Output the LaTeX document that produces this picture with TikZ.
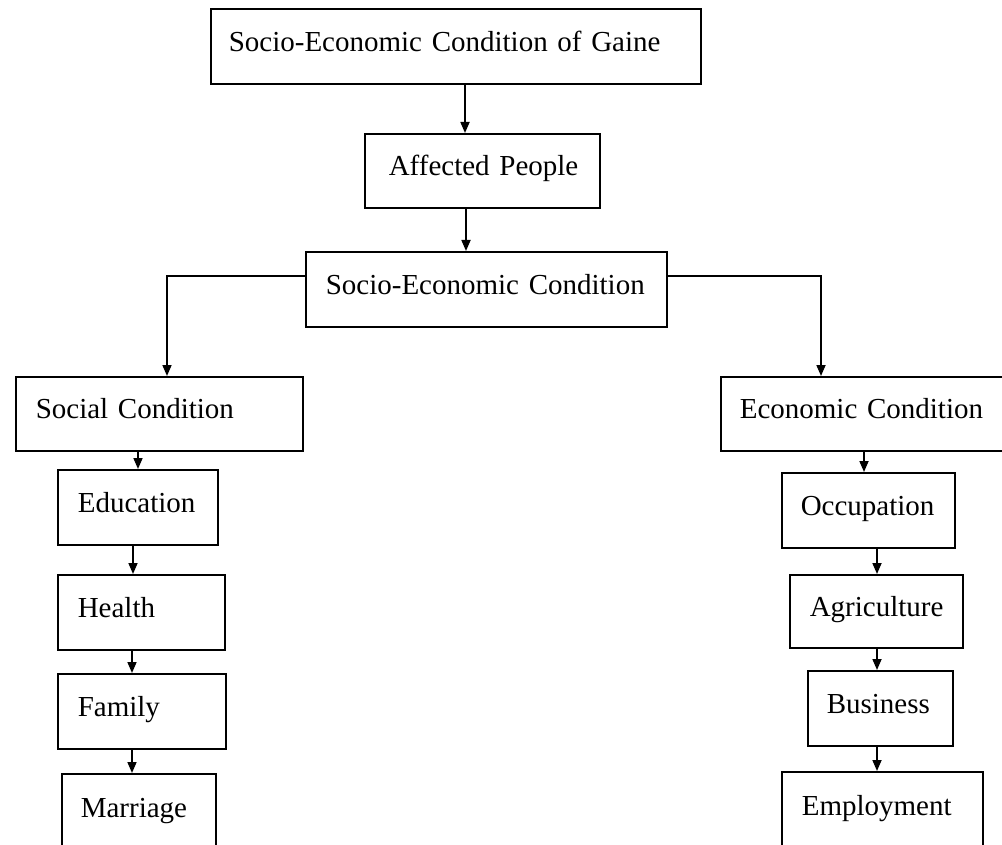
\documentclass[tikz,border=0pt]{standalone}
\usepackage{fontspec}
\setmainfont{Liberation Serif}
\usetikzlibrary{arrows.meta}
\tikzset{
  box/.style={draw=black, line width=1.6pt, rectangle, anchor=north west,
    align=left, text height=10pt, text depth=0pt, inner ysep=0pt,
    font=\fontsize{29}{34}\selectfont},
  arr/.style={draw=black, line width=1.7pt, -{Triangle[length=11pt,width=9pt]}},
}
\begin{document}
\begin{tikzpicture}[x=1pt,y=-1pt]
\useasboundingbox[fill=white] (0,0) rectangle (1002,845);
% boxes
\node[box, minimum width=490pt, minimum height=75pt, inner xsep=18pt, text width=454pt] (b1) at (210,8) {\mbox{Socio-Economic Condition of Gaine}};
\node[box, minimum width=235pt, minimum height=74pt, inner xsep=24pt, text width=187pt] (b2) at (364,133) {\mbox{Affected People}};
\node[box, minimum width=361pt, minimum height=75pt, inner xsep=20pt, text width=321pt] (b3) at (305,251) {\mbox{Socio-Economic Condition}};
\node[box, minimum width=287pt, minimum height=74pt, inner xsep=20pt, text width=247pt] (soc) at (15,376) {\mbox{Social Condition}};
\node[box, minimum width=284pt, minimum height=74pt, inner xsep=19pt, text width=246pt] (eco) at (720,376) {\mbox{Economic Condition}};
\node[box, minimum width=160pt, minimum height=75pt, inner xsep=20pt, text width=120pt] (edu) at (57,469) {\mbox{Education}};
\node[box, minimum width=167pt, minimum height=75pt, inner xsep=20pt, text width=127pt] (hea) at (57,574) {\mbox{Health}};
\node[box, minimum width=168pt, minimum height=75pt, inner xsep=20pt, text width=128pt] (fam) at (57,673) {\mbox{Family}};
\node[box, minimum width=154pt, minimum height=77pt, inner xsep=19pt, text width=116pt] (mar) at (61,773) {\mbox{Marriage}};
\node[box, minimum width=173pt, minimum height=75pt, inner xsep=19pt, text width=135pt] (occ) at (781,472) {\mbox{Occupation}};
\node[box, minimum width=173pt, minimum height=73pt, inner xsep=20pt, text width=133pt] (agr) at (789,574) {\mbox{Agriculture}};
\node[box, minimum width=145pt, minimum height=75pt, inner xsep=19pt, text width=107pt] (bus) at (807,670) {\mbox{Business}};
\node[box, minimum width=201pt, minimum height=78pt, inner xsep=20pt, text width=161pt] (emp) at (781,771) {\mbox{Employment}};
% connector guide points
\coordinate (c1) at (465,0);
\coordinate (c2) at (466,0);
\coordinate (jL) at (167,276);
\coordinate (jR) at (821,276);
\coordinate (cs) at (138,0);
\coordinate (ce) at (133,0);
\coordinate (ch) at (132,0);
\coordinate (co) at (864,0);
\coordinate (cr) at (877,0);
% connectors
\draw[arr] (b1.south -| c1) -- (b2.north -| c1);
\draw[arr] (b2.south -| c2) -- (b3.north -| c2);
\draw[arr] (b3.west |- jL) -- (jL) -- (soc.north -| jL);
\draw[arr] (b3.east |- jR) -- (jR) -- (eco.north -| jR);
\draw[arr] (soc.south -| cs) -- (edu.north -| cs);
\draw[arr] (edu.south -| ce) -- (hea.north -| ce);
\draw[arr] (hea.south -| ch) -- (fam.north -| ch);
\draw[arr] (fam.south -| ch) -- (mar.north -| ch);
\draw[arr] (eco.south -| co) -- (occ.north -| co);
\draw[arr] (occ.south -| cr) -- (agr.north -| cr);
\draw[arr] (agr.south -| cr) -- (bus.north -| cr);
\draw[arr] (bus.south -| cr) -- (emp.north -| cr);
\end{tikzpicture}
\end{document}
